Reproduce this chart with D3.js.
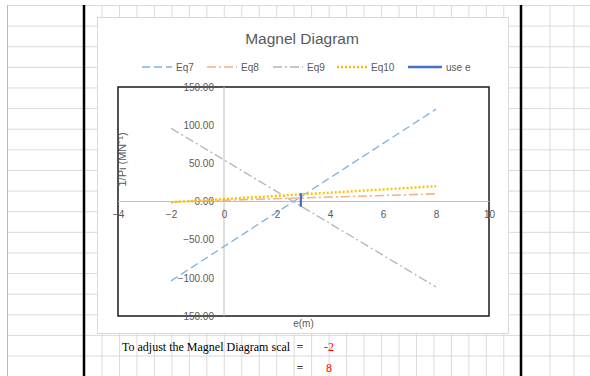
<!DOCTYPE html>
<html>
<head>
<meta charset="utf-8">
<script src="https://cdn.jsdelivr.net/npm/d3@7/dist/d3.min.js"></script>
<style>
  html, body { margin: 0; padding: 0; background: #fff; }
  svg { display: block; }
</style>
</head>
<body>
<svg id="c" width="590" height="376"></svg>
<script>
// ---------- data ----------
const chartTitle = "Magnel Diagram";
const seriesNames = ["Eq7", "Eq8", "Eq9", "Eq10", "use e"];
const eqX = [-2, 8];
const eq7 = [-104, 121];
const eq8 = [-0.5, 10];
const eq9 = [96, -112];
const eq10 = [-1, 20];
const useEX = [2.9, 2.9];
const useEY = [-7, 11];
const xTicks = [-4, -2, 0, 2, 4, 6, 8, 10];
const yTicks = [-150, -100, -50, 0, 50, 100, 150];
const xTitle = "e(m)";
const yTitle = "1/Pi (MN\u207B\u00B9)";
const noteText = "To adjust the Magnel Diagram scal";
const scaleInputs = [-2, 8];

// ---------- setup ----------
const svg = d3.select("#c");
const W = 590, H = 376;

// spreadsheet grid
const grid = svg.append("g");
const rowY = d3.range(0, 19).map(k => 5.5 + 20.62 * k);
const colX = d3.range(0, 24).map(k => 102 + 17.47 * k);
grid.selectAll("line.row").data(rowY).join("line")
  .attr("x1", 7).attr("x2", W).attr("y1", d => d).attr("y2", d => d)
  .attr("stroke", "#dadada").attr("stroke-width", 1);
grid.selectAll("line.col").data(colX).join("line")
  .attr("x1", d => d).attr("x2", d => d).attr("y1", 5).attr("y2", H)
  .attr("stroke", "#dadada").attr("stroke-width", 1);
grid.selectAll("line.colr").data([550, 574]).join("line")
  .attr("x1", d => d).attr("x2", d => d).attr("y1", 5).attr("y2", H)
  .attr("stroke", "#dadada").attr("stroke-width", 1);
grid.append("line").attr("x1", 7.5).attr("x2", 7.5).attr("y1", 5).attr("y2", H)
  .attr("stroke", "#b8b8b8").attr("stroke-width", 1);
grid.selectAll("line.blk").data([84, 521]).join("line")
  .attr("x1", d => d).attr("x2", d => d).attr("y1", 5).attr("y2", H)
  .attr("stroke", "#000").attr("stroke-width", 2.5);

// chart container
svg.append("rect").attr("x", 97.5).attr("y", 17.5).attr("width", 411).attr("height", 316)
  .attr("fill", "#fff").attr("stroke", "#d9d9d9").attr("stroke-width", 1);

const font = "'Liberation Sans', Arial, sans-serif";
const txt = "#595959";

// title
svg.append("text").attr("x", 302).attr("y", 44).attr("text-anchor", "middle")
  .attr("font-family", font).attr("font-size", 15.5).attr("fill", txt).text(chartTitle);

// plot area
const pl = 118, pr = 489, pt = 87, pb = 316;
const x = d3.scaleLinear().domain([xTicks[0], xTicks[xTicks.length - 1]]).range([pl, pr]);
const y = d3.scaleLinear().domain([yTicks[0], yTicks[yTicks.length - 1]]).range([pb, pt]);

svg.append("rect").attr("x", pl).attr("y", pt).attr("width", pr - pl).attr("height", pb - pt)
  .attr("fill", "#fff").attr("stroke", "#1a1a1a").attr("stroke-width", 1.5);

// axis lines at zero
svg.append("line").attr("x1", x(0)).attr("x2", x(0)).attr("y1", pt).attr("y2", pb)
  .attr("stroke", "#bfbfbf").attr("stroke-width", 1);
svg.append("line").attr("x1", pl).attr("x2", pr).attr("y1", y(0)).attr("y2", y(0))
  .attr("stroke", "#bfbfbf").attr("stroke-width", 1);

// y tick labels (via d3 axis, no domain/ticks)
const yAxis = d3.axisLeft(y).tickValues(yTicks).tickSize(0).tickPadding(0)
  .tickFormat(d3.format(".2f"));
const gy = svg.append("g").attr("transform", `translate(${x(0) - 10},0)`).call(yAxis);
gy.select(".domain").remove();
gy.selectAll("text").attr("font-family", font).attr("font-size", 10).attr("fill", txt);

// x tick labels
const xAxis = d3.axisBottom(x).tickValues(xTicks).tickSize(0).tickPadding(0).tickFormat(d3.format("d"));
const gx = svg.append("g").attr("transform", `translate(0,${y(0) + 9})`).call(xAxis);
gx.select(".domain").remove();
gx.selectAll("text").attr("font-family", font).attr("font-size", 10).attr("fill", txt);

// axis titles
svg.append("text").attr("transform", `translate(126,${(pt + pb) / 2 - 42}) rotate(-90)`)
  .attr("text-anchor", "middle").attr("font-family", font).attr("font-size", 11)
  .attr("fill", txt).text(yTitle);
svg.append("text").attr("x", 303.5).attr("y", 327).attr("text-anchor", "middle")
  .attr("font-family", font).attr("font-size", 10).attr("fill", txt).text(xTitle);

// series
const styles = [
  { name: seriesNames[0], xs: eqX, ys: eq7, color: "#7db1e0", w: 1.3, dash: "8,4" },
  { name: seriesNames[1], xs: eqX, ys: eq8, color: "#f4b183", w: 1.6, dash: "9,3,2,3" },
  { name: seriesNames[2], xs: eqX, ys: eq9, color: "#b4b4b4", w: 1.3, dash: "9,3,2,3" },
  { name: seriesNames[3], xs: eqX, ys: eq10, color: "#ffc000", w: 2.4, dash: "2,2" },
  { name: seriesNames[4], xs: useEX, ys: useEY, color: "#4472c4", w: 2.4, dash: null }
];
const line = d3.line().x(d => x(d[0])).y(d => y(d[1]));
styles.forEach(s => {
  const pts = s.xs.map((v, i) => [v, s.ys[i]]);
  svg.append("path").attr("d", line(pts)).attr("fill", "none")
    .attr("stroke", s.color).attr("stroke-width", s.w)
    .attr("stroke-dasharray", s.dash);
});

// legend
const legX = [142, 207, 273, 337, 408];
const legLen = [30, 30, 30, 30, 34];
const legY = 67;
styles.forEach((s, i) => {
  svg.append("line").attr("x1", legX[i]).attr("x2", legX[i] + legLen[i])
    .attr("y1", legY).attr("y2", legY)
    .attr("stroke", s.color).attr("stroke-width", s.w).attr("stroke-dasharray", s.dash);
  svg.append("text").attr("x", legX[i] + legLen[i] + 4).attr("y", legY + 3.5)
    .attr("font-family", font).attr("font-size", 10).attr("fill", txt).text(s.name);
});

// spreadsheet cells below chart
const serif = "'Liberation Serif', 'Times New Roman', serif";
svg.append("text").attr("x", 122).attr("y", 351).attr("font-family", serif)
  .attr("font-size", 12).attr("fill", "#000").text(noteText);
[351, 372].forEach(yy => {
  svg.append("text").attr("x", 300).attr("y", yy).attr("text-anchor", "middle")
    .attr("font-family", serif).attr("font-size", 12).attr("fill", "#000").text("=");
});
scaleInputs.forEach((v, i) => {
  svg.append("text").attr("x", 329).attr("y", 351 + 21 * i).attr("text-anchor", "middle")
    .attr("font-family", serif).attr("font-size", 12).attr("fill", "#ff0000").text(v);
});
</script>
</body>
</html>
